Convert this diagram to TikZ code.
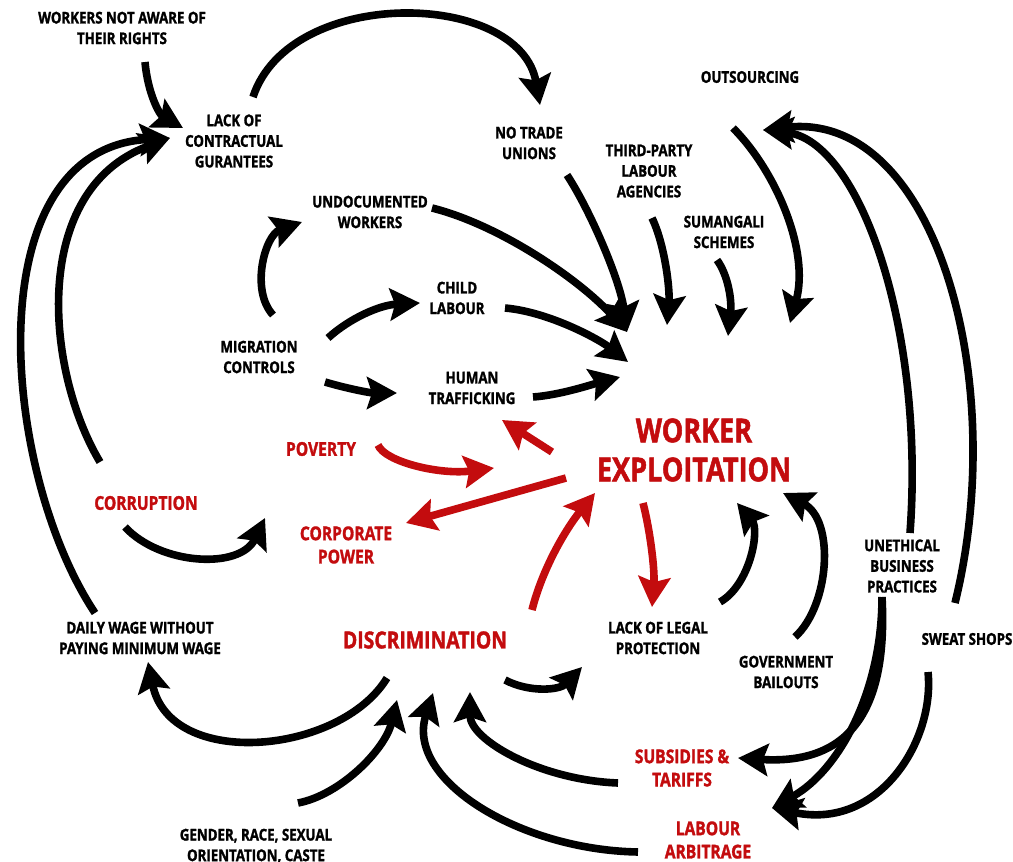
\documentclass[tikz,border=0pt]{standalone}
\usepackage{fontspec}
\setmainfont{Open Sans}[FakeStretch=0.82,BoldFeatures={FakeBold=1.5}]
\usetikzlibrary{arrows.meta}
\definecolor{wred}{RGB}{195,12,14}

\begin{document}
\begin{tikzpicture}[x=0.5pt,y=-0.5pt,
   lbl/.style={align=center,inner sep=0pt,font=\bfseries\fontsize{8.1}{10.3}\selectfont},
   rlbl/.style={lbl,text=wred,font=\bfseries\fontsize{9.5}{11.6}\selectfont},
   arr/.style={line width=3.8pt,-{Stealth[length=15pt,width=16pt,inset=2.5pt]}},
   rarr/.style={arr,color=wred}]
  \useasboundingbox (0,0) rectangle (1013,862);
  \node[lbl] (wr) at (122,28) {WORKERS NOT AWARE OF\\THEIR RIGHTS};
  \node[lbl] (lc) at (234,141) {LACK OF\\CONTRACTUAL\\GURANTEES};
  \node[lbl] (nt) at (529,143) {NO TRADE\\UNIONS};
  \node[lbl] (tp) at (649,171) {THIRD-PARTY\\LABOUR\\AGENCIES};
  \node[lbl] (os) at (750,77) {OUTSOURCING};
  \node[lbl] (sm) at (724,232) {SUMANGALI\\SCHEMES};
  \node[lbl] (ud) at (370,212) {UNDOCUMENTED\\WORKERS};
  \node[lbl] (cl) at (457,298) {CHILD\\LABOUR};
  \node[lbl] (mc) at (259,357) {MIGRATION\\CONTROLS};
  \node[lbl] (ht) at (472,388) {HUMAN\\TRAFFICKING};
  \node[rlbl] (pv) at (321,449) {POVERTY};
  \node[rlbl,font=\bfseries\fontsize{16.5}{19.5}\selectfont] (we) at (694,450) {WORKER\\EXPLOITATION};
  \node[rlbl] (co) at (146,503) {CORRUPTION};
  \node[rlbl] (cp) at (346,545) {CORPORATE\\POWER};
  \node[lbl] (dw) at (140,638) {DAILY WAGE WITHOUT\\PAYING MINIMUM WAGE};
  \node[rlbl,font=\bfseries\fontsize{11.8}{14}\selectfont] (ds) at (425,640) {DISCRIMINATION};
  \node[lbl] (lp) at (658,638) {LACK OF LEGAL\\PROTECTION};
  \node[lbl] (gb) at (786,672) {GOVERNMENT\\BAILOUTS};
  \node[lbl] (ub) at (902,566) {UNETHICAL\\BUSINESS\\PRACTICES};
  \node[lbl] (ss) at (967,639) {SWEAT SHOPS};
  \node[rlbl] (st) at (682,768) {SUBSIDIES \&\\TARIFFS};
  \node[rlbl] (la) at (708,840) {LABOUR\\ARBITRAGE};
  \node[lbl] (gr) at (256,846) {GENDER, RACE, SEXUAL\\ORIENTATION, CASTE};
  \draw[arr] ([shift={(23,34)}]wr.center) .. controls (148,95) and (160,115) .. ([shift={(-51,-13)}]lc.center);
  \draw[arr] ([shift={(19,-44)}]lc.center) .. controls (290,-15) and (520,-10) .. ([shift={(11,-38)}]nt.center);
  \draw[arr] ([shift={(-45,-25)}]dw.center) .. controls (0,470) and (-25,150) .. ([shift={(-64,-3)}]lc.center);
  \draw[arr] ([shift={(-46,-41)}]co.center) .. controls (45,370) and (30,190) .. ([shift={(-64,-3)}]lc.center);
  \draw[arr] ([shift={(14,-42)}]mc.center) .. controls (250,290) and (265,235) .. ([shift={(-68,10)}]ud.center);
  \draw[arr] ([shift={(69,-19)}]mc.center) .. controls (350,318) and (380,305) .. ([shift={(-37,5)}]cl.center);
  \draw[arr] ([shift={(66,25)}]mc.center) .. controls (345,388) and (370,393) .. ([shift={(-75,5)}]ht.center);
  \draw[arr] ([shift={(62,-4)}]ud.center) .. controls (500,225) and (580,280) .. ([shift={(-67,-118)}]we.center);
  \draw[arr] ([shift={(38,32)}]nt.center) .. controls (590,210) and (620,280) .. ([shift={(-67,-118)}]we.center);
  \draw[arr] ([shift={(48,10)}]cl.center) .. controls (550,312) and (600,340) .. ([shift={(-66,-88)}]we.center);
  \draw[arr] ([shift={(61,9)}]ht.center) .. controls (560,395) and (590,385) .. ([shift={(-74,-73)}]we.center);
  \draw[arr] ([shift={(3,47)}]tp.center) .. controls (665,245) and (670,290) .. ([shift={(-27,-125)}]we.center);
  \draw[arr] ([shift={(-7,28)}]sm.center) .. controls (728,275) and (732,300) .. ([shift={(34,-114)}]we.center);
  \draw[arr] ([shift={(-17,51)}]os.center) .. controls (775,170) and (810,250) .. ([shift={(96,-127)}]we.center);
  \draw[arr] ([shift={(8,-33)}]ub.center) .. controls (925,330) and (860,140) .. ([shift={(13,53)}]os.center);
  \draw[arr] ([shift={(-12,-36)}]ss.center) .. controls (1010,380) and (935,110) .. ([shift={(13,53)}]os.center);
  \draw[rarr] ([shift={(57,-4)}]pv.center) .. controls (385,462) and (440,475) .. ([shift={(-200,18)}]we.center);
  \draw[rarr] ([shift={(-142,2)}]we.center) -- ([shift={(30,32)}]ht.center);
  \draw[rarr] ([shift={(-128,28)}]we.center) -- ([shift={(60,-22)}]cp.center);
  \draw[rarr] ([shift={(107,-30)}]ds.center) .. controls (542,570) and (565,530) .. ([shift={(-99,43)}]we.center);
  \draw[rarr] ([shift={(-51,53)}]we.center) .. controls (650,530) and (655,570) .. ([shift={(-6,-31)}]lp.center);
  \draw[arr] ([shift={(62,-36)}]lp.center) .. controls (750,585) and (760,530) .. ([shift={(43,53)}]we.center);
  \draw[arr] ([shift={(9,-35)}]gb.center) .. controls (830,605) and (835,520) .. ([shift={(89,43)}]we.center);
  \draw[arr] ([shift={(80,40)}]ds.center) .. controls (530,693) and (560,690) .. ([shift={(-76,29)}]lp.center);
  \draw[arr] ([shift={(-38,38)}]ds.center) .. controls (340,755) and (170,770) .. ([shift={(8,24)}]dw.center);
  \draw[arr] ([shift={(42,-43)}]gr.center) .. controls (340,795) and (385,750) .. ([shift={(-28,60)}]ds.center);
  \draw[arr] ([shift={(-70,12)}]la.center) .. controls (520,850) and (405,780) .. ([shift={(8,53)}]ds.center);
  \draw[arr] ([shift={(-64,15)}]st.center) .. controls (540,780) and (470,740) .. ([shift={(45,52)}]ds.center);
  \draw[arr] ([shift={(-20,31)}]ub.center) .. controls (888,710) and (850,765) .. ([shift={(56,-10)}]st.center);
  \draw[arr] ([shift={(-20,31)}]ub.center) .. controls (882,690) and (840,770) .. ([shift={(64,-32)}]la.center);
  \draw[arr] ([shift={(-39,33)}]ss.center) .. controls (935,740) and (880,830) .. ([shift={(64,-32)}]la.center);
  \draw[arr] ([shift={(-21,24)}]co.center) .. controls (160,565) and (240,570) .. ([shift={(-81,-27)}]cp.center);
\end{tikzpicture}
\end{document}
